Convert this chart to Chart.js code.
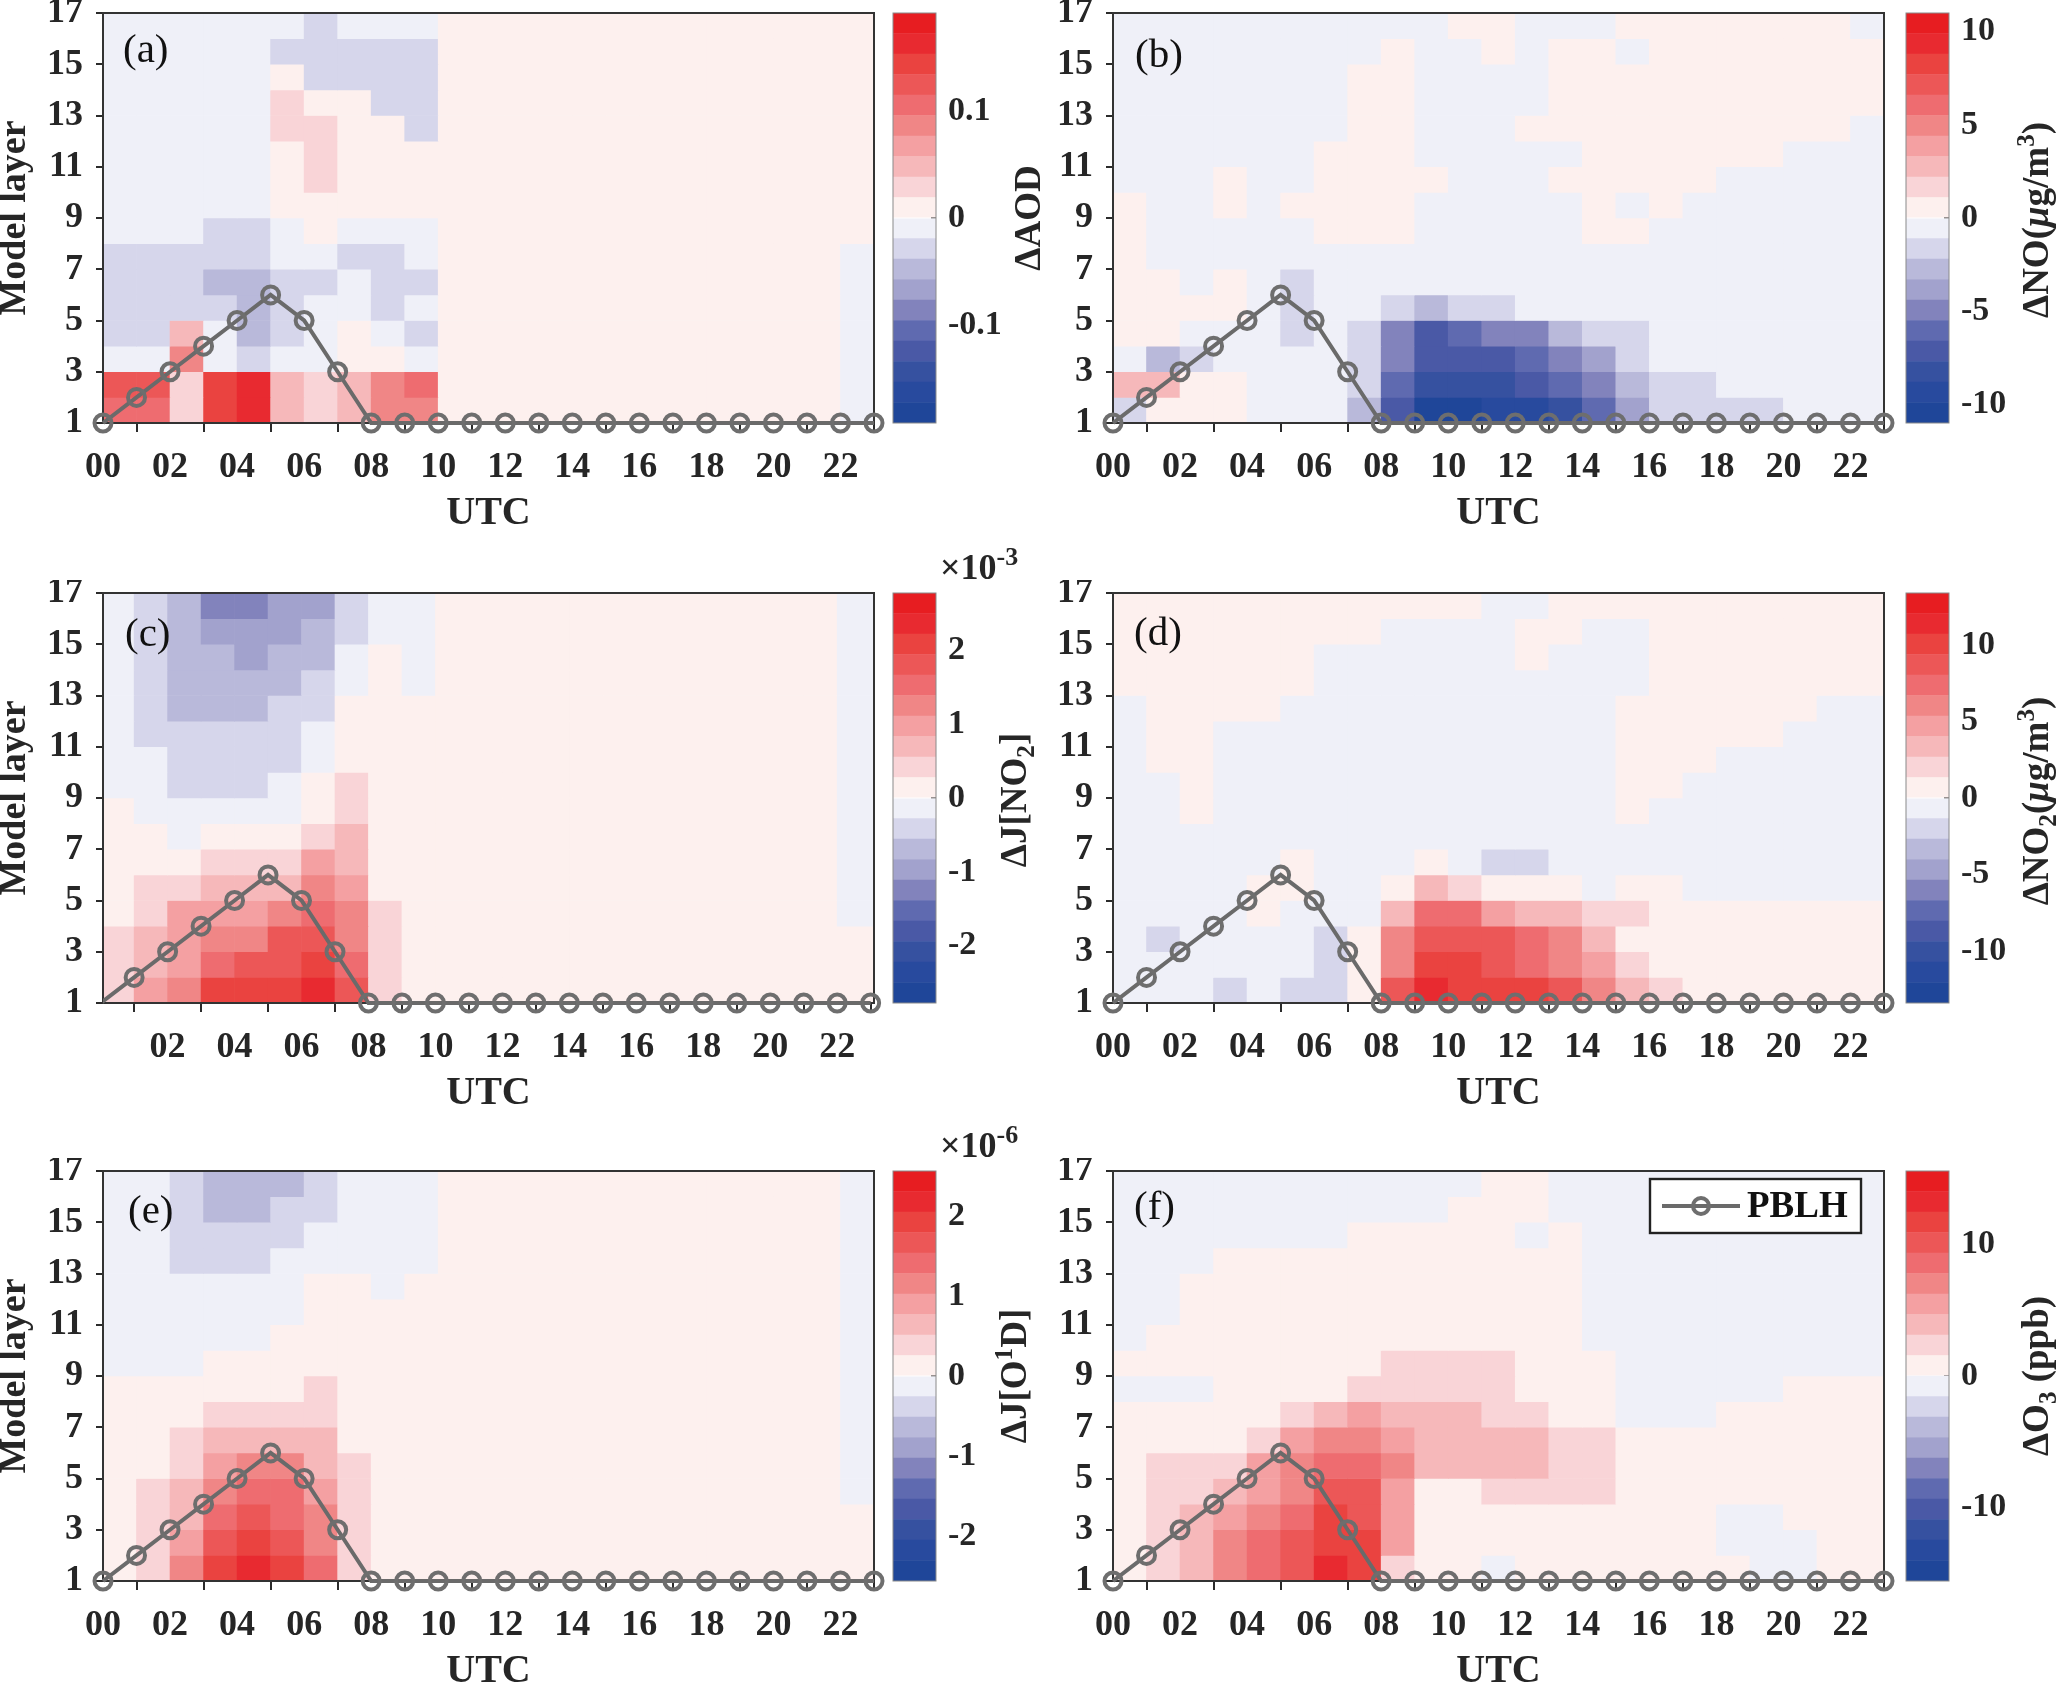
<!DOCTYPE html>
<html><head><meta charset="utf-8">
<style>
html,body{margin:0;padding:0;background:#fff;width:2067px;height:1685px;overflow:hidden;position:relative}
canvas{position:absolute;display:block}
</style>
<script src="https://cdn.jsdelivr.net/npm/chart.js@4"></script>
</head><body>
<script>
// Colour classes, listed from layer 16-17 (top) to layer 1-2 (bottom), column = hour 00..22.
// Positive classes are the red side of the colour bar, negative classes the blue side.
const hourLabels=['00','02','04','06','08','10','12','14','16','18','20','22'];
const pblhHours=[0,1,2,3,4,5,6,7,8,9,10,11,12,13,14,15,16,17,18,19,20,21,22,23];
const pblhLayer=[1,2,3,4,5,6,5,3,1,1,1,1,1,1,1,1,1,1,1,1,1,1,1,1];
const redClasses=['#fdf0ee','#f9d4d7','#f6b8ba','#f4a0a2','#f08686','#ee6c70','#ec5757','#ea4340','#e82a30','#e71d21'];
const blueClasses=['#eff0f8','#d6d6eb','#b9b9da','#a2a2cd','#8283bc','#5f6ab0','#4a59a6','#3651a0','#284a9e','#1f4699'];

const cellsA=[
[-1,-1,-1,-1,-1,-1,-2,-1,-1,-1,1,1,1,1,1,1,1,1,1,1,1,1,1],
[-1,-1,-1,-1,-1,-2,-2,-2,-2,-2,1,1,1,1,1,1,1,1,1,1,1,1,1],
[-1,-1,-1,-1,-1,1,-2,-2,-2,-2,1,1,1,1,1,1,1,1,1,1,1,1,1],
[-1,-1,-1,-1,-1,2,1,1,-2,-2,1,1,1,1,1,1,1,1,1,1,1,1,1],
[-1,-1,-1,-1,-1,2,2,1,1,-2,1,1,1,1,1,1,1,1,1,1,1,1,1],
[-1,-1,-1,-1,-1,1,2,1,1,1,1,1,1,1,1,1,1,1,1,1,1,1,1],
[-1,-1,-1,-1,-1,1,2,1,1,1,1,1,1,1,1,1,1,1,1,1,1,1,1],
[-1,-1,-1,-1,-1,1,1,1,1,1,1,1,1,1,1,1,1,1,1,1,1,1,1],
[-1,-1,-1,-2,-2,-1,1,-1,-1,-1,1,1,1,1,1,1,1,1,1,1,1,1,1],
[-2,-2,-2,-2,-2,-1,-1,-2,-2,-1,1,1,1,1,1,1,1,1,1,1,1,1,-1],
[-2,-2,-2,-3,-3,-2,-2,-1,-2,-2,1,1,1,1,1,1,1,1,1,1,1,1,-1],
[-2,-2,-2,-2,-3,-2,-1,-1,-2,-1,1,1,1,1,1,1,1,1,1,1,1,1,-1],
[-2,-2,3,-1,-3,-2,-1,1,-1,-2,1,1,1,1,1,1,1,1,1,1,1,1,-1],
[-1,-1,5,-1,-2,-1,-1,1,1,-1,1,1,1,1,1,1,1,1,1,1,1,1,-1],
[7,7,2,8,9,3,2,3,5,6,1,1,1,1,1,1,1,1,1,1,1,1,-1],
[6,6,2,8,9,3,2,3,5,5,1,1,1,1,1,1,1,1,1,1,1,1,-1]];

const cellsB=[
[-1,-1,-1,-1,-1,-1,-1,-1,-1,-1,1,1,-1,-1,-1,1,1,1,1,1,1,1,-1],
[-1,-1,-1,-1,-1,-1,-1,-1,1,-1,-1,1,-1,1,1,-1,1,1,1,1,1,1,1],
[-1,-1,-1,-1,-1,-1,-1,1,1,-1,-1,-1,-1,1,1,1,1,1,1,1,1,1,1],
[-1,-1,-1,-1,-1,-1,-1,1,1,-1,-1,-1,-1,1,1,1,1,1,1,1,1,1,1],
[-1,-1,-1,-1,-1,-1,-1,1,1,-1,-1,-1,1,1,1,1,1,1,1,1,1,1,-1],
[-1,-1,-1,-1,-1,-1,1,1,1,-1,-1,-1,-1,-1,1,1,1,1,1,1,-1,-1,-1],
[-1,-1,-1,1,-1,-1,1,1,1,1,-1,-1,-1,1,1,1,1,1,-1,-1,-1,-1,-1],
[1,-1,-1,1,-1,1,1,1,1,-1,-1,-1,-1,-1,1,-1,1,-1,-1,-1,-1,-1,-1],
[1,-1,-1,-1,-1,-1,1,1,1,-1,-1,-1,-1,-1,1,1,-1,-1,-1,-1,-1,-1,-1],
[1,-1,-1,-1,-1,-1,-1,-1,-1,-1,-1,-1,-1,-1,-1,-1,-1,-1,-1,-1,-1,-1,-1],
[1,1,-1,1,-1,-2,-1,-1,-1,-1,-1,-1,-1,-1,-1,-1,-1,-1,-1,-1,-1,-1,-1],
[1,1,1,1,-1,-2,-1,-1,-2,-3,-2,-2,-1,-1,-1,-1,-1,-1,-1,-1,-1,-1,-1],
[1,1,-1,-1,-1,-2,-1,-2,-5,-7,-6,-5,-5,-3,-2,-2,-1,-1,-1,-1,-1,-1,-1],
[-1,-3,-2,-1,-1,-1,-1,-2,-5,-7,-7,-7,-6,-5,-4,-2,-1,-1,-1,-1,-1,-1,-1],
[3,3,1,1,-1,-1,-1,-2,-6,-8,-8,-8,-7,-6,-5,-3,-2,-2,-1,-1,-1,-1,-1],
[-2,1,1,1,-1,-1,-1,-3,-7,-10,-10,-9,-9,-8,-6,-4,-2,-2,-2,-2,-1,-1,-1]];

const cellsC=[
[-1,-2,-3,-5,-5,-4,-4,-2,-1,-1,1,1,1,1,1,1,1,1,1,1,1,1,-1,-1],
[-1,-2,-3,-4,-4,-4,-3,-2,-1,-1,1,1,1,1,1,1,1,1,1,1,1,1,-1,-1],
[-1,-2,-3,-3,-4,-3,-3,-1,1,-1,1,1,1,1,1,1,1,1,1,1,1,1,-1,-1],
[-1,-2,-3,-3,-3,-3,-2,-1,1,-1,1,1,1,1,1,1,1,1,1,1,1,1,-1,-1],
[-1,-2,-3,-3,-3,-2,-2,1,1,1,1,1,1,1,1,1,1,1,1,1,1,1,-1,-1],
[-1,-2,-2,-2,-2,-2,-1,1,1,1,1,1,1,1,1,1,1,1,1,1,1,1,-1,-1],
[-1,-1,-2,-2,-2,-2,-1,1,1,1,1,1,1,1,1,1,1,1,1,1,1,1,-1,-1],
[-1,-1,-2,-2,-2,-1,1,2,1,1,1,1,1,1,1,1,1,1,1,1,1,1,-1,-1],
[1,-1,-1,-1,-1,-1,1,2,1,1,1,1,1,1,1,1,1,1,1,1,1,1,-1,-1],
[1,1,-1,1,1,1,2,3,1,1,1,1,1,1,1,1,1,1,1,1,1,1,-1,-1],
[1,1,1,2,2,2,4,3,1,1,1,1,1,1,1,1,1,1,1,1,1,1,-1,-1],
[1,2,2,3,3,3,5,4,1,1,1,1,1,1,1,1,1,1,1,1,1,1,-1,-1],
[1,2,4,4,4,5,6,5,2,1,1,1,1,1,1,1,1,1,1,1,1,1,-1,-1],
[2,3,4,5,5,7,7,5,2,1,1,1,1,1,1,1,1,1,1,1,1,1,1,1],
[2,3,4,6,7,7,8,6,2,1,1,1,1,1,1,1,1,1,1,1,1,1,1,1],
[2,4,5,8,8,8,9,7,2,1,1,1,1,1,1,1,1,1,1,1,1,1,1,1]];

const cellsD=[
[1,1,1,1,1,1,1,1,1,1,1,-1,-1,1,1,1,1,1,1,1,1,1,1],
[1,1,1,1,1,1,1,1,-1,-1,-1,-1,1,1,-1,-1,1,1,1,1,1,1,1],
[1,1,1,1,1,1,-1,-1,-1,-1,-1,-1,1,-1,-1,-1,1,1,1,1,1,1,1],
[1,1,1,1,1,1,-1,-1,-1,-1,-1,-1,-1,-1,-1,-1,1,1,1,1,1,1,1],
[-1,1,1,1,1,-1,-1,-1,-1,-1,-1,-1,-1,-1,-1,1,1,1,1,1,1,-1,-1],
[-1,1,1,-1,-1,-1,-1,-1,-1,-1,-1,-1,-1,-1,-1,1,1,1,1,1,-1,-1,-1],
[-1,1,1,-1,-1,-1,-1,-1,-1,-1,-1,-1,-1,-1,-1,1,1,1,-1,-1,-1,-1,-1],
[-1,-1,1,-1,-1,-1,-1,-1,-1,-1,-1,-1,-1,-1,-1,1,1,-1,-1,-1,-1,-1,-1],
[-1,-1,1,-1,-1,-1,-1,-1,-1,-1,-1,-1,-1,-1,-1,1,-1,-1,-1,-1,-1,-1,-1],
[-1,-1,-1,-1,-1,-1,-1,-1,-1,-1,-1,-1,-1,-1,-1,-1,-1,-1,-1,-1,-1,-1,-1],
[-1,-1,-1,-1,-1,1,-1,-1,-1,1,-1,-2,-2,-1,-1,-1,-1,-1,-1,-1,-1,-1,-1],
[-1,-1,-1,-1,1,1,-1,-1,1,3,2,1,1,1,-1,1,1,-1,-1,-1,-1,-1,-1],
[-1,-1,-1,-1,1,-1,-1,-1,3,6,6,4,3,3,2,2,1,1,1,1,1,1,1],
[-1,-2,-1,-1,-1,-1,-2,1,5,7,7,7,6,5,3,1,1,1,1,1,1,1,1],
[-1,-1,-1,-1,-1,-1,-2,1,5,8,8,7,6,5,4,2,1,1,1,1,1,1,1],
[-1,-1,-1,-2,-1,-2,-2,1,7,9,8,8,8,7,5,3,2,1,1,1,1,1,1]];

const cellsE=[
[-1,-1,-2,-3,-3,-3,-2,-1,-1,-1,1,1,1,1,1,1,1,1,1,1,1,1,-1],
[-1,-1,-2,-3,-3,-2,-2,-1,-1,-1,1,1,1,1,1,1,1,1,1,1,1,1,-1],
[-1,-1,-2,-2,-2,-2,-1,-1,-1,-1,1,1,1,1,1,1,1,1,1,1,1,1,-1],
[-1,-1,-2,-2,-2,-1,-1,-1,-1,-1,1,1,1,1,1,1,1,1,1,1,1,1,-1],
[-1,-1,-1,-1,-1,-1,1,1,-1,1,1,1,1,1,1,1,1,1,1,1,1,1,-1],
[-1,-1,-1,-1,-1,-1,1,1,1,1,1,1,1,1,1,1,1,1,1,1,1,1,-1],
[-1,-1,-1,-1,-1,1,1,1,1,1,1,1,1,1,1,1,1,1,1,1,1,1,-1],
[-1,-1,-1,1,1,1,1,1,1,1,1,1,1,1,1,1,1,1,1,1,1,1,-1],
[1,1,1,1,1,1,2,1,1,1,1,1,1,1,1,1,1,1,1,1,1,1,-1],
[1,1,1,2,2,2,2,1,1,1,1,1,1,1,1,1,1,1,1,1,1,1,-1],
[1,1,2,3,3,3,3,1,1,1,1,1,1,1,1,1,1,1,1,1,1,1,-1],
[1,1,2,4,5,5,3,2,1,1,1,1,1,1,1,1,1,1,1,1,1,1,-1],
[1,2,3,5,6,6,4,2,1,1,1,1,1,1,1,1,1,1,1,1,1,1,-1],
[1,2,3,6,7,6,5,2,1,1,1,1,1,1,1,1,1,1,1,1,1,1,1],
[1,2,4,7,8,7,5,2,1,1,1,1,1,1,1,1,1,1,1,1,1,1,1],
[1,2,5,8,9,8,6,2,1,1,1,1,1,1,1,1,1,1,1,1,1,1,1]];

const cellsF=[
[-1,-1,-1,-1,-1,-1,-1,-1,-1,-1,-1,1,1,-1,-1,-1,-1,-1,-1,-1,-1,-1,-1],
[-1,-1,-1,-1,-1,-1,-1,-1,-1,-1,1,1,1,-1,-1,-1,-1,-1,-1,-1,-1,-1,-1],
[-1,-1,-1,-1,-1,-1,-1,1,1,1,1,1,-1,1,-1,-1,-1,-1,-1,-1,-1,-1,-1],
[-1,-1,-1,1,1,1,1,1,1,1,1,1,1,1,-1,-1,-1,-1,-1,-1,-1,-1,-1],
[-1,-1,1,1,1,1,1,1,1,1,1,1,1,1,-1,-1,-1,-1,-1,-1,-1,-1,-1],
[-1,-1,1,1,1,1,1,1,1,1,1,1,1,1,-1,-1,-1,-1,-1,-1,-1,-1,-1],
[-1,1,1,1,1,1,1,1,1,1,1,1,1,1,-1,-1,-1,-1,-1,-1,-1,-1,-1],
[1,1,1,1,1,1,1,1,2,2,2,2,1,1,1,-1,-1,-1,-1,-1,-1,-1,-1],
[-1,-1,-1,1,1,1,1,2,2,2,2,2,1,1,1,-1,-1,-1,-1,-1,1,1,1],
[1,1,1,1,1,2,3,4,3,3,3,2,2,1,1,-1,-1,-1,1,1,1,1,1],
[1,1,1,1,2,4,5,5,4,3,3,3,3,2,2,1,1,1,1,1,1,1,1],
[1,2,2,2,4,5,6,6,5,3,3,3,3,2,2,1,1,1,1,1,1,1,1],
[1,2,2,3,4,5,7,7,4,1,1,2,2,2,2,1,1,1,1,1,1,1,1],
[1,2,3,4,5,6,8,7,4,1,1,1,1,1,1,1,1,1,-1,-1,1,1,1],
[1,2,3,5,6,7,8,8,4,1,1,1,1,1,1,1,1,1,-1,-1,-1,1,1],
[1,2,3,5,6,7,9,8,2,1,1,-1,1,1,1,1,1,1,1,-1,-1,1,1]];

const FONT='"Liberation Serif","Times New Roman",serif';
const INK='#262626';
const classColor=c=>c>0?redClasses[c-1]:blueClasses[-c-1];

function addCanvas(l,t,w,h){
  const c=document.createElement('canvas');
  c.width=w;c.height=h;c.style.left=l+'px';c.style.top=t+'px';c.style.width=w+'px';c.style.height=h+'px';
  document.body.appendChild(c);return c;
}
function zeroPadding(s){s.paddingTop=0;s.paddingBottom=0;s.paddingLeft=0;s.paddingRight=0;}
function drawRuns(ctx,runs,size){
  const fontOf=r=>{
    const s=r.sub||r.sup?size*0.68:size;
    return `${r.italic?'italic ':''}${r.bold===false?'':'bold '}${s}px ${FONT}`;
  };
  let total=0;
  runs.forEach(r=>{ctx.font=fontOf(r);total+=ctx.measureText(r.t).width+(r.gap||0);});
  let x=-total/2;
  ctx.textAlign='left';ctx.textBaseline='alphabetic';ctx.fillStyle=INK;
  runs.forEach(r=>{
    ctx.font=fontOf(r);
    const dy=size*0.33+(r.sub?size*0.2:0)-(r.sup?size*0.38:0);
    ctx.fillText(r.t,x,dy);
    x+=ctx.measureText(r.t).width+(r.gap||0);
  });
}

const Y_TOP=[13,593,1171];
const PLOT_H=410;
const COLS=[{plot:103,cb:893,canvasL:-10},{plot:1113,cb:1906,canvasL:1040}];

function makePanel(o){
  const col=COLS[o.col],top=Y_TOP[o.row],plotW=771;
  const cvTop=top-13,cvH=13+PLOT_H+122,cvL=col.canvasL,cvW=col.plot+plotW+12-cvL;
  const yAxisW=col.plot-cvL;
  const cv=addCanvas(cvL,cvTop,cvW,cvH);
  const datasets=[];
  o.cells.forEach((row,i)=>{
    const layer=16-i;
    datasets.push({type:'bar',grouped:false,order:1,borderWidth:0,barPercentage:1,categoryPercentage:1,
      data:row.map((c,h)=>({x:h+0.5,y:[layer,layer+1]})),backgroundColor:row.map(classColor)});
  });
  datasets.push({type:'line',label:'PBLH',order:-1,data:pblhHours.map((h,i)=>({x:h,y:pblhLayer[i]})),
    borderColor:'#6a6a6a',borderWidth:4,tension:0,pointStyle:'circle',
    pointRadius:o.hideFirstPoint?pblhHours.map((h,i)=>i===0?0:8.5):8.5,
    pointBorderColor:'#6e6e6e',pointBorderWidth:4,pointBackgroundColor:'rgba(0,0,0,0)',
    clip:o.hideFirstPoint?{left:0,top:false,right:false,bottom:false}:false});
  const marks={id:'marks',
    beforeDatasetDraw(chart,args){
      if(args.meta.type!=='line')return;
      const a=chart.chartArea,ctx=chart.ctx;
      ctx.save();ctx.strokeStyle='#333';ctx.lineWidth=2;
      ctx.strokeRect(a.left,a.top,a.right-a.left,a.bottom-a.top);ctx.restore();
    },
    afterDraw(chart){
      const a=chart.chartArea,ctx=chart.ctx;
      ctx.save();
      ctx.font=`41px ${FONT}`;ctx.fillStyle='#111';ctx.textAlign='left';ctx.textBaseline='middle';
      ctx.fillText(o.letter,a.left+o.letterDx,a.top+o.letterDy);
      if(o.legend){
        const ds=chart.data.datasets[chart.data.datasets.length-1];
        const bx=1650-cvL,by=1179-cvTop,bw=211,bh=54,cy=by+bh/2;
        ctx.fillStyle='#fff';ctx.fillRect(bx,by,bw,bh);
        ctx.strokeStyle='#222';ctx.lineWidth=2.4;ctx.strokeRect(bx,by,bw,bh);
        ctx.strokeStyle=ds.borderColor;ctx.lineWidth=ds.borderWidth;
        ctx.beginPath();ctx.moveTo(bx+12,cy);ctx.lineTo(bx+90,cy);ctx.stroke();
        ctx.strokeStyle=ds.pointBorderColor;ctx.beginPath();ctx.arc(bx+51,cy,8,0,Math.PI*2);ctx.stroke();
        ctx.fillStyle='#111';ctx.font=`bold 37px ${FONT}`;ctx.textBaseline='middle';
        ctx.fillText(ds.label,bx+97,cy+1);
      }
      ctx.restore();
    }};
  new Chart(cv,{type:'bar',data:{datasets},plugins:[marks],options:{
    responsive:false,animation:false,devicePixelRatio:1,
    layout:{autoPadding:false,padding:{top:13,right:cvW-yAxisW-plotW,left:0,bottom:0}},
    plugins:{legend:{display:false},tooltip:{enabled:false},title:{display:false}},
    scales:{
      x:{type:'linear',min:o.xMin,max:o.xMax,offset:false,
        grid:{drawOnChartArea:false,color:'#2b2b2b',lineWidth:2,tickLength:9},border:{display:false},
        ticks:{stepSize:2,includeBounds:false,autoSkip:false,maxRotation:0,padding:18,color:INK,
          font:{family:FONT,size:36,weight:'bold',lineHeight:1},
          callback:v=>hourLabels[v/2]},
        title:{display:true,text:'UTC',color:INK,font:{family:FONT,size:40,weight:'bold',lineHeight:1},padding:{top:0,bottom:11}},
        afterFit:s=>{s.height=122;zeroPadding(s);}},
      y:{type:'linear',min:1,max:17,
        grid:{drawOnChartArea:false,color:'#2b2b2b',lineWidth:2,tickLength:7},border:{display:false},
        ticks:{stepSize:2,autoSkip:false,padding:13,color:INK,font:{family:FONT,size:36,weight:'bold',lineHeight:1}},
        title:{display:o.col===0,text:'Model layer',color:INK,font:{family:FONT,size:38,weight:'bold',lineHeight:1},padding:{top:6,bottom:0}},
        afterFit:s=>{s.width=yAxisW;zeroPadding(s);}}
    }}});
}

function makeColorbar(o){
  const col=COLS[o.col],top=Y_TOP[o.row];
  const L=col.cb-8,T=top-50,W=o.col===0?170:161,H=PLOT_H+60;
  const cv=addCanvas(L,T,W,H);
  const step=o.vmax/10;
  const bins=[...blueClasses].reverse().map((c,i)=>({c,lo:-o.vmax+i*step,hi:-o.vmax+(i+1)*step}))
    .concat(redClasses.map((c,i)=>({c,lo:i*step,hi:(i+1)*step})));
  const datasets=bins.map(b=>({type:'bar',grouped:false,borderWidth:0,barPercentage:1,categoryPercentage:1,
    data:[[b.lo,b.hi]],backgroundColor:b.c}));
  const marks={id:'cbmarks',
    afterDraw(chart){
      const a=chart.chartArea,ctx=chart.ctx;
      ctx.save();
      ctx.strokeStyle='#8a8a8a';ctx.lineWidth=1;ctx.strokeRect(a.left,a.top,a.right-a.left,a.bottom-a.top);
      ctx.save();ctx.translate(o.titleX-L,o.titleY-T);ctx.rotate(-Math.PI/2);
      drawRuns(ctx,o.title,o.titleSize||37);ctx.restore();
      if(o.exponent){
        ctx.fillStyle=INK;ctx.textAlign='left';ctx.textBaseline='alphabetic';
        ctx.font=`bold 36px ${FONT}`;ctx.fillText('×10',940-L,top-14-T);
        const w=ctx.measureText('×10').width;
        ctx.font=`bold 26px ${FONT}`;ctx.fillText(o.exponent,940-L+w,top-28-T);
      }
      ctx.restore();
    }};
  new Chart(cv,{type:'bar',data:{labels:['bar'],datasets},plugins:[marks],options:{
    responsive:false,animation:false,devicePixelRatio:1,
    layout:{autoPadding:false,padding:{top:50,left:8,bottom:10,right:0}},
    plugins:{legend:{display:false},tooltip:{enabled:false}},
    scales:{
      x:{type:'category',display:false,offset:true},
      y:{type:'linear',position:'right',min:-o.vmax,max:o.vmax,
        grid:{drawOnChartArea:false,color:'#333',lineWidth:1.5,tickLength:-5},border:{display:false},
        afterBuildTicks:s=>{s.ticks=o.ticks.map(v=>({value:v}));},
        ticks:{autoSkip:false,padding:17,color:INK,font:{family:FONT,size:34,weight:'bold',lineHeight:1},callback:v=>String(v)},
        afterFit:s=>{s.width=W-8-43;zeroPadding(s);}}
    }}});
}

makePanel({col:0,row:0,cells:cellsA,xMin:0,xMax:23,letter:'(a)',letterDx:20,letterDy:38});
makePanel({col:1,row:0,cells:cellsB,xMin:0,xMax:23,letter:'(b)',letterDx:22,letterDy:43});
makePanel({col:0,row:1,cells:cellsC,xMin:0.07,xMax:23.1,hideFirstPoint:true,letter:'(c)',letterDx:22,letterDy:42});
makePanel({col:1,row:1,cells:cellsD,xMin:0,xMax:23,letter:'(d)',letterDx:21,letterDy:41});
makePanel({col:0,row:2,cells:cellsE,xMin:0,xMax:23,letter:'(e)',letterDx:25,letterDy:41});
makePanel({col:1,row:2,cells:cellsF,xMin:0,xMax:23,letter:'(f)',letterDx:21,letterDy:37,legend:true});

makeColorbar({col:0,row:0,vmax:0.192,ticks:[0.1,0,-0.1],titleX:1028,titleY:218,title:[{t:'ΔAOD'}]});
makeColorbar({col:1,row:0,vmax:11,ticks:[10,5,0,-5,-10],titleX:2036,titleY:220,
  title:[{t:'ΔNO('},{t:'μ',italic:true},{t:'g/m'},{t:'3',sup:true},{t:')'}]});
makeColorbar({col:0,row:1,vmax:2.78,ticks:[2,1,0,-1,-2],titleX:1014,titleY:800,exponent:'-3',
  title:[{t:'ΔJ[NO'},{t:'2',sub:true},{t:']'}]});
makeColorbar({col:1,row:1,vmax:13.4,ticks:[10,5,0,-5,-10],titleX:2036,titleY:801,
  title:[{t:'ΔNO'},{t:'2',sub:true},{t:'('},{t:'μ',italic:true},{t:'g/m'},{t:'3',sup:true},{t:')'}]});
makeColorbar({col:0,row:2,vmax:2.56,ticks:[2,1,0,-1,-2],titleX:1014,titleY:1376,exponent:'-6',
  title:[{t:'ΔJ[O'},{t:'1',sup:true},{t:'D]'}]});
makeColorbar({col:1,row:2,vmax:15.6,ticks:[10,0,-10],titleX:2036,titleY:1376,
  title:[{t:'ΔO'},{t:'3',sub:true},{t:' (ppb)'}]});
</script>
</body></html>
